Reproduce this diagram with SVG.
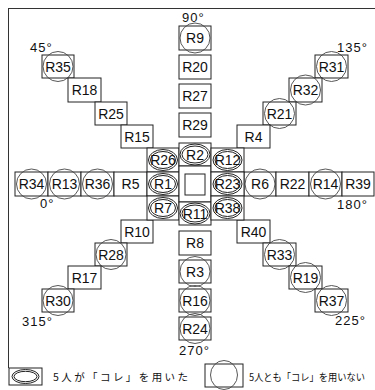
<svg xmlns="http://www.w3.org/2000/svg" width="375" height="390" viewBox="0 0 375 390">
<style>
.b{fill:#fff;stroke:#222;stroke-width:1}
.c{fill:none;stroke:#444;stroke-width:0.9}
.e{fill:none;stroke:#222;stroke-width:1}
.t{font-family:"Liberation Sans",Arial,sans-serif;font-size:14px;fill:#111;text-anchor:middle}
.d{font-family:"Liberation Sans",Arial,sans-serif;font-size:13px;fill:#111;letter-spacing:1px}
.j{font-family:"Noto Sans CJK JP","Noto Sans",sans-serif;font-size:10.5px;fill:#111}
.f{stroke:#333;stroke-width:1;fill:none}
</style>
<g id="frame">
<line class="f" x1="8" y1="8.5" x2="375" y2="8.5"/>
<line class="f" x1="8.5" y1="8" x2="8.5" y2="368"/>
</g>
<g id="labels">
<text class="d" x="182" y="22">90°</text>
<text class="d" x="30" y="52">45°</text>
<text class="d" x="337" y="52">135°</text>
<text class="d" x="40" y="208">0°</text>
<text class="d" x="337" y="209">180°</text>
<text class="d" x="22" y="326">315°</text>
<text class="d" x="335" y="325">225°</text>
<text class="d" x="179" y="355">270°</text>
</g>
<g id="R9"><rect class="b" x="179" y="26" width="32" height="24"/><circle class="c" cx="195" cy="38" r="15"/><text class="t" x="195" y="43">R9</text></g>
<g id="R20"><rect class="b" x="179" y="55" width="32" height="24"/><text class="t" x="195" y="72">R20</text></g>
<g id="R27"><rect class="b" x="179" y="84" width="32" height="24"/><text class="t" x="195" y="101">R27</text></g>
<g id="R29"><rect class="b" x="179" y="113" width="32" height="24"/><text class="t" x="195" y="130">R29</text></g>
<g id="R8"><rect class="b" x="179" y="231" width="32" height="24"/><text class="t" x="195" y="248">R8</text></g>
<g id="R3"><rect class="b" x="179" y="260" width="32" height="23"/><circle class="c" cx="195" cy="271.5" r="15"/><text class="t" x="195" y="276.5">R3</text></g>
<g id="R16"><rect class="b" x="179" y="289" width="32" height="23"/><circle class="c" cx="195" cy="300.5" r="15"/><text class="t" x="195" y="305.5">R16</text></g>
<g id="R24"><rect class="b" x="179" y="317" width="32" height="23"/><circle class="c" cx="195" cy="328.5" r="15"/><text class="t" x="195" y="333.5">R24</text></g>
<g id="R35"><rect class="b" x="42" y="55" width="32" height="23"/><circle class="c" cx="58" cy="66.5" r="15"/><text class="t" x="58" y="71.5">R35</text></g>
<g id="R18"><rect class="b" x="68" y="78" width="33" height="24"/><text class="t" x="84.5" y="95">R18</text></g>
<g id="R25"><rect class="b" x="95" y="102" width="32" height="23"/><text class="t" x="111" y="118.5">R25</text></g>
<g id="R15"><rect class="b" x="121" y="125" width="32" height="23"/><text class="t" x="137" y="141.5">R15</text></g>
<g id="R31"><rect class="b" x="315" y="55" width="33" height="23"/><circle class="c" cx="331.5" cy="66.5" r="15"/><text class="t" x="331.5" y="71.5">R31</text></g>
<g id="R32"><rect class="b" x="289" y="78" width="33" height="24"/><circle class="c" cx="305.5" cy="90" r="15"/><text class="t" x="305.5" y="95">R32</text></g>
<g id="R21"><rect class="b" x="263" y="102" width="33" height="23"/><circle class="c" cx="279.5" cy="113.5" r="15"/><text class="t" x="279.5" y="118.5">R21</text></g>
<g id="R4"><rect class="b" x="237" y="125" width="33" height="23"/><text class="t" x="253.5" y="141.5">R4</text></g>
<g id="R10"><rect class="b" x="121" y="220" width="32" height="23"/><text class="t" x="137" y="236.5">R10</text></g>
<g id="R28"><rect class="b" x="95" y="243" width="32" height="23"/><circle class="c" cx="111" cy="254.5" r="15"/><text class="t" x="111" y="259.5">R28</text></g>
<g id="R17"><rect class="b" x="68" y="266" width="33" height="23"/><text class="t" x="84.5" y="282.5">R17</text></g>
<g id="R30"><rect class="b" x="42" y="289" width="32" height="23"/><circle class="c" cx="58" cy="300.5" r="15"/><text class="t" x="58" y="305.5">R30</text></g>
<g id="R40"><rect class="b" x="237" y="220" width="33" height="23"/><text class="t" x="253.5" y="236.5">R40</text></g>
<g id="R33"><rect class="b" x="263" y="243" width="33" height="23"/><circle class="c" cx="279.5" cy="254.5" r="15"/><text class="t" x="279.5" y="259.5">R33</text></g>
<g id="R19"><rect class="b" x="289" y="266" width="33" height="23"/><circle class="c" cx="305.5" cy="277.5" r="15"/><text class="t" x="305.5" y="282.5">R19</text></g>
<g id="R37"><rect class="b" x="315" y="289" width="33" height="23"/><circle class="c" cx="331.5" cy="300.5" r="15"/><text class="t" x="331.5" y="305.5">R37</text></g>
<g id="R34"><rect class="b" x="15" y="172" width="33" height="24"/><circle class="c" cx="31.5" cy="184" r="15"/><text class="t" x="31.5" y="189">R34</text></g>
<g id="R13"><rect class="b" x="48" y="172" width="33" height="24"/><circle class="c" cx="64.5" cy="184" r="15"/><text class="t" x="64.5" y="189">R13</text></g>
<g id="R36"><rect class="b" x="81" y="172" width="33" height="24"/><circle class="c" cx="97.5" cy="184" r="15"/><text class="t" x="97.5" y="189">R36</text></g>
<g id="R5"><rect class="b" x="114" y="172" width="33" height="24"/><text class="t" x="130.5" y="189">R5</text></g>
<g id="R6"><rect class="b" x="244" y="172" width="32" height="24"/><circle class="c" cx="260" cy="184" r="15"/><text class="t" x="260" y="189">R6</text></g>
<g id="R22"><rect class="b" x="276" y="172" width="33" height="24"/><text class="t" x="292.5" y="189">R22</text></g>
<g id="R14"><rect class="b" x="309" y="172" width="33" height="24"/><circle class="c" cx="325.5" cy="184" r="15"/><text class="t" x="325.5" y="189">R14</text></g>
<g id="R39"><rect class="b" x="342" y="172" width="32" height="24"/><text class="t" x="358" y="189">R39</text></g>
<g id="R26"><rect class="b" x="147" y="148" width="32" height="24"/><ellipse class="e" cx="163" cy="160" rx="14.5" ry="10.5"/><ellipse class="e" cx="163" cy="160" rx="12.5" ry="8.5"/><text class="t" x="163" y="165">R26</text></g>
<g id="R1"><rect class="b" x="147" y="172" width="32" height="24"/><ellipse class="e" cx="163" cy="184" rx="14.5" ry="10.5"/><ellipse class="e" cx="163" cy="184" rx="12.5" ry="8.5"/><text class="t" x="163" y="189">R1</text></g>
<g id="R7"><rect class="b" x="147" y="196" width="32" height="24"/><ellipse class="e" cx="163" cy="208" rx="14.5" ry="10.5"/><ellipse class="e" cx="163" cy="208" rx="12.5" ry="8.5"/><text class="t" x="163" y="213">R7</text></g>
<g id="R2"><rect class="b" x="179" y="143" width="32" height="23"/><ellipse class="e" cx="195" cy="154.5" rx="15" ry="10.5"/><ellipse class="e" cx="195" cy="154.5" rx="13" ry="8.5"/><text class="t" x="195" y="159.5">R2</text></g>
<g id="center"><rect class="b" x="179" y="166" width="32" height="36"/><rect class="b" x="185" y="174" width="20" height="21"/></g>
<g id="R11"><rect class="b" x="179" y="202" width="32" height="23"/><ellipse class="e" cx="195" cy="213.5" rx="15" ry="10.5"/><ellipse class="e" cx="195" cy="213.5" rx="13" ry="8.5"/><text class="t" x="195" y="218.5">R11</text></g>
<g id="R12"><rect class="b" x="211" y="148" width="33" height="24"/><ellipse class="e" cx="227.5" cy="160" rx="14.5" ry="10.5"/><ellipse class="e" cx="227.5" cy="160" rx="12.5" ry="8.5"/><text class="t" x="227.5" y="165">R12</text></g>
<g id="R23"><rect class="b" x="211" y="172" width="33" height="24"/><ellipse class="e" cx="227.5" cy="184" rx="14.5" ry="10.5"/><ellipse class="e" cx="227.5" cy="184" rx="12.5" ry="8.5"/><text class="t" x="227.5" y="189">R23</text></g>
<g id="R38"><rect class="b" x="211" y="196" width="33" height="24"/><ellipse class="e" cx="227.5" cy="208" rx="14.5" ry="10.5"/><ellipse class="e" cx="227.5" cy="208" rx="12.5" ry="8.5"/><text class="t" x="227.5" y="213">R38</text></g>
<g id="legend-used">
<rect class="b" x="9" y="368" width="33" height="17"/>
<ellipse class="e" cx="25.5" cy="376.5" rx="13.5" ry="7"/>
<ellipse class="e" cx="25.5" cy="376.5" rx="11.5" ry="5.2"/>
<text class="j" x="53" y="381" textLength="135" lengthAdjust="spacing">5人が「コレ」を用いた</text>
</g>
<g id="legend-unused">
<rect class="b" x="205" y="364" width="38" height="23"/>
<ellipse class="c" cx="224" cy="375" rx="13.5" ry="14.5"/>
<text class="j" x="249" y="381" style="font-size:10px" textLength="116" lengthAdjust="spacingAndGlyphs">5人とも「コレ」を用いない</text>
</g>
</svg>
